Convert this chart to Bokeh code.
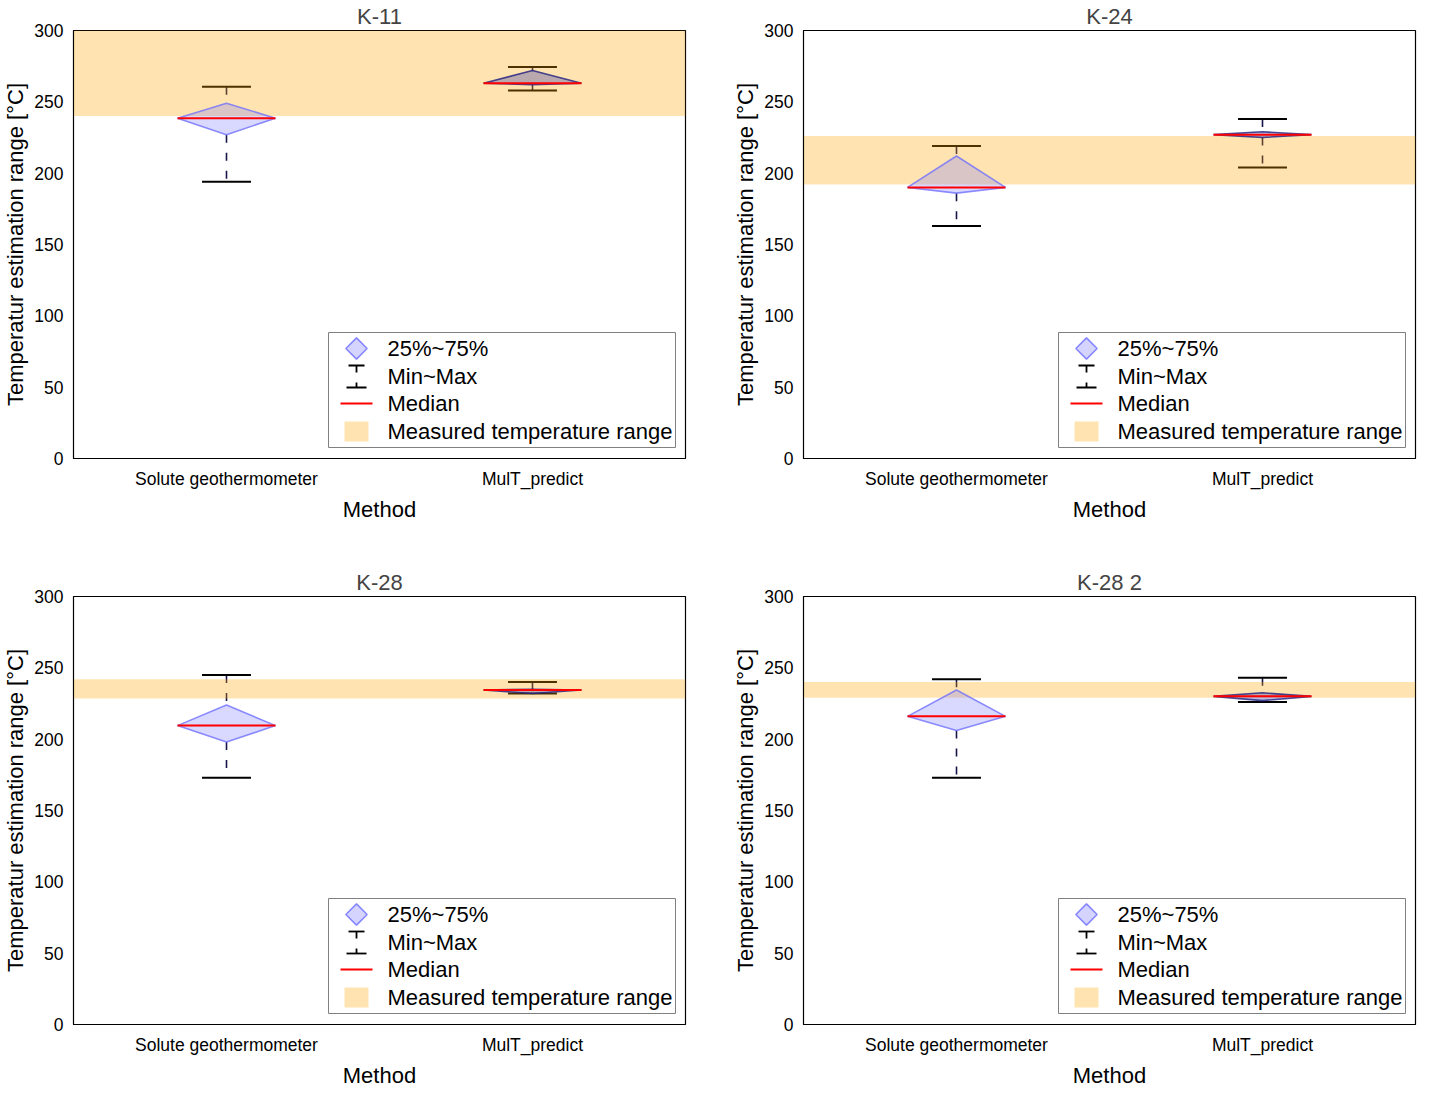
import math
from bokeh.plotting import figure
from bokeh.layouts import column, row
from bokeh.models import Range1d, FixedTicker
from bokeh.core.properties import value
from bokeh.embed import file_html
from bokeh.resources import INLINE

# ---------------- data ----------------
methods = ["Solute geothermometer", "MulT_predict"]
titles = ["K-11", "K-24", "K-28", "K-28 2"]

# per well: [Solute, MulT]
mins    = [[194, 258], [163, 204], [173, 232], [173, 226]]
q1s     = [[227, 262], [186, 225], [198, 232], [206, 227]]
medians = [[238.5, 263], [190, 227], [209.5, 234.5], [216, 230]]
q3s     = [[249, 272], [212, 229], [224, 235], [234.5, 232.5]]
maxs    = [[260.5, 274.5], [219, 238], [245, 240], [242, 243]]

band_low  = [240, 192, 228.5, 229]
band_high = [300, 226, 242, 240]

yticks = [0, 50, 100, 150, 200, 250, 300]
legend_labels = ["25%~75%", "Min~Max", "Median", "Measured temperature range"]

# ---------------- style / layout ----------------
FONT = "Liberation Sans"
FW, FH = 612, 428
HALF_W = 0.16
CAP_W = 0.08
diamond_line = ["#7070ff", "#1e1e80"]
diamond_fill = ["#6666ff", "#3838a8"]
diamond_fill_alpha = [0.25, 0.35]
BAND_COLOR, BAND_ALPHA = "orange", 0.3


def draw_legend(p):
    kw = dict(x_range_name="px", y_range_name="px")
    # box geometry in frame pixels, anchored to the bottom-right corner
    right, bottom, w, h = FW - 10, 11, 347, 115
    gx = FW - 329          # glyph centre
    tx = FW - 298          # text left
    rows = [bottom + 99, bottom + 71, bottom + 44, bottom + 16]
    p.quad(left=[right - w], right=[right], bottom=[bottom], top=[bottom + h],
           fill_color="white", line_color="#808080", line_width=1, **kw)
    # 25%~75% diamond
    p.scatter(x=[gx], y=[rows[0]], marker="square", angle=math.pi / 4, size=15,
              fill_color="#6666ff", fill_alpha=0.28, line_color="#8585ff",
              line_width=1.5, **kw)
    # Min~Max symbol
    c = rows[1]
    p.segment(x0=[gx - 8, gx, gx, gx - 10], x1=[gx + 8, gx, gx, gx + 10],
              y0=[c + 11, c + 11, c - 6, c - 11], y1=[c + 11, c + 4, c - 11, c - 11],
              line_color="black", line_width=1.8, **kw)
    # Median
    p.segment(x0=[gx - 16], x1=[gx + 16], y0=[rows[2]], y1=[rows[2]],
              line_color="red", line_width=2, **kw)
    # band swatch
    p.quad(left=[gx - 12], right=[gx + 12], bottom=[rows[3] - 10], top=[rows[3] + 10],
           fill_color=BAND_COLOR, fill_alpha=BAND_ALPHA, line_color=None, **kw)
    p.text(x=[tx] * 4, y=rows, text=legend_labels, text_baseline="middle",
           text_align="left", text_font=value(FONT), text_font_size="22px",
           text_color="black", **kw)


def make_panel(k, left_col, top_row):
    p = figure(
        frame_width=FW, frame_height=FH,
        x_range=Range1d(0.5, 2.5), y_range=Range1d(0, 300),
        output_backend="svg", toolbar_location=None,
        title=titles[k],
        min_border_left=0,
        min_border_right=45 if left_col else 3,
        min_border_top=0,
        min_border_bottom=108 if top_row else 10,
    )
    p.extra_x_ranges = {"px": Range1d(0, FW)}
    p.extra_y_ranges = {"px": Range1d(0, FH)}
    p.title.align = "center"
    p.title.text_font = FONT
    p.title.text_font_size = "22px"
    p.title.text_font_style = "normal"
    p.title.standoff = 3
    p.title.offset = 0
    p.xgrid.visible = False
    p.ygrid.visible = False
    p.outline_line_color = "black"
    p.outline_line_width = 1.2
    p.outline_line_alpha = 1

    xs = [i + 1 for i in range(len(methods))]

    # whiskers (dashed), from max to q3 and from q1 to min
    p.segment(x0=xs, x1=xs, y0=maxs[k], y1=q3s[k], line_color="#15154a",
              line_width=1.6, line_dash="8 10")
    p.segment(x0=xs, x1=xs, y0=q1s[k], y1=mins[k], line_color="#15154a",
              line_width=1.6, line_dash="8 10")
    # caps
    caps_x0 = [x - CAP_W for x in xs]
    caps_x1 = [x + CAP_W for x in xs]
    p.segment(x0=caps_x0, x1=caps_x1, y0=maxs[k], y1=maxs[k],
              line_color="black", line_width=2)
    p.segment(x0=caps_x0, x1=caps_x1, y0=mins[k], y1=mins[k],
              line_color="black", line_width=2)

    # measured temperature band
    p.quad(left=[p.x_range.start], right=[p.x_range.end],
           bottom=[band_low[k]], top=[band_high[k]],
           fill_color=BAND_COLOR, fill_alpha=BAND_ALPHA, line_color=None)

    # diamonds
    for i, x in enumerate(xs):
        p.patch(x=[x - HALF_W, x, x + HALF_W, x],
                y=[medians[k][i], q3s[k][i], medians[k][i], q1s[k][i]],
                fill_color=diamond_fill[i], fill_alpha=diamond_fill_alpha[i],
                line_color=diamond_line[i], line_alpha=0.8, line_width=1.6)

    # median
    p.segment(x0=[x - HALF_W for x in xs], x1=[x + HALF_W for x in xs],
              y0=medians[k], y1=medians[k], line_color="red", line_width=2)

    draw_legend(p)

    # axes
    p.xaxis.ticker = FixedTicker(ticks=xs)
    p.xaxis.major_label_overrides = {x: m for x, m in zip(xs, methods)}
    p.yaxis.ticker = FixedTicker(ticks=yticks)
    for ax in (p.xaxis[0], p.yaxis[0]):
        ax.major_tick_line_color = None
        ax.minor_tick_line_color = None
        ax.axis_line_color = "black"
        ax.major_label_text_font = FONT
        ax.major_label_text_font_size = "17.5px"
        ax.major_label_text_color = "black"
        ax.axis_label_text_font = FONT
        ax.axis_label_text_font_size = "22px"
        ax.axis_label_text_font_style = "normal"
        ax.axis_label_text_color = "black"
    p.xaxis.axis_label = "Method"
    p.yaxis.axis_label = "Temperatur estimation range [°C]"
    p.xaxis.major_label_standoff = 4
    p.xaxis.axis_label_standoff = 5
    p.yaxis.major_label_standoff = 4
    p.yaxis.axis_label_standoff = 3
    return p


p1 = make_panel(0, True, True)
p2 = make_panel(1, False, True)
p3 = make_panel(2, True, False)
p4 = make_panel(3, False, False)

layout = column(row(p1, p2), row(p3, p4))

open("out.html", "w").write(file_html(layout, INLINE))
